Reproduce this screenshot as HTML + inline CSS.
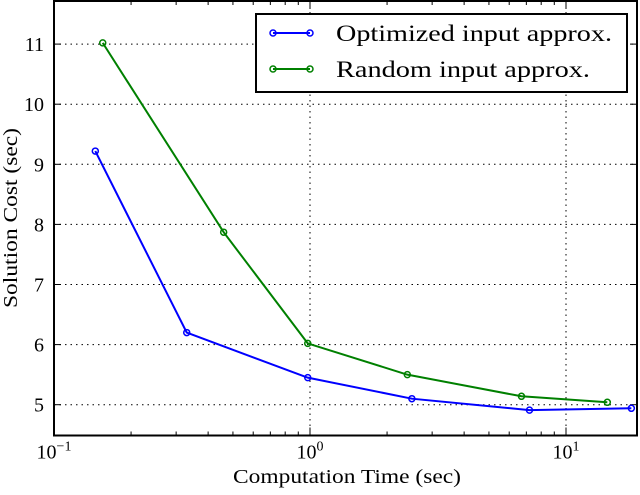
<!DOCTYPE html>
<html><head><meta charset="utf-8"><style>
body{margin:0;background:#fff}
text{font-family:"Liberation Serif","DejaVu Serif",serif;fill:#000}
</style></head><body>
<svg id="chart" width="640" height="490" xmlns="http://www.w3.org/2000/svg"></svg>
<script>
const yTicks=[5,6,7,8,9,10,11];
const xTickExp=[-1,0,1];
const blueX=[0.145,0.33,0.98,2.5,7.2,18];
const blueY=[9.22,6.2,5.45,5.1,4.91,4.94];
const greenX=[0.155,0.46,0.98,2.4,6.7,14.5];
const greenY=[11.02,7.87,6.02,5.5,5.14,5.04];
const seriesNames=["Optimized input approx.","Random input approx."];

const L=54,R=637,T=1,B=435.5;
const NS="http://www.w3.org/2000/svg";
const svg=document.getElementById('chart');
function X(v){return 54+(Math.log10(v)+1)*256;}
function Y(v){return 404.7-(v-5)*60.1;}
function mk(tag,attrs,parent){const e=document.createElementNS(NS,tag);for(const k in attrs)e.setAttribute(k,attrs[k]);(parent||svg).appendChild(e);return e;}

yTicks.forEach(t=>{const g=mk('line',{x1:L,x2:R,y1:Y(t),y2:Y(t),stroke:'#000','stroke-width':1,'stroke-dasharray':'1.5,4'});


const tx=mk('text',{x:L-10,y:Y(t)+7,'text-anchor':'end','font-size':20});tx.textContent=t;


mk('line',{x1:L,x2:L+7,y1:Y(t),y2:Y(t),stroke:'#000'});mk('line',{x1:R,x2:R-7,y1:Y(t),y2:Y(t),stroke:'#000'});});
xTickExp.forEach(e=>{const x=X(Math.pow(10,e));
if(e>-1){const g=mk('line',{x1:x,x2:x,y1:T,y2:B,stroke:'#000','stroke-width':1,'stroke-dasharray':'1.5,4'});

}
mk('line',{x1:x,x2:x,y1:B,y2:B-8,stroke:'#000'});mk('line',{x1:x,x2:x,y1:T,y2:T+8,stroke:'#000'});
const tx=mk('text',{x:x,y:B+23,'text-anchor':'middle','font-size':20});


tx.innerHTML='10<tspan dy="-8" font-size="14">'+(e<0?'\u22121':e)+'</tspan>';
for(let m=2;m<10;m++){const v=m*Math.pow(10,e);const xm=X(v);if(xm<R){mk('line',{x1:xm,x2:xm,y1:B,y2:B-4,stroke:'#000'});mk('line',{x1:xm,x2:xm,y1:T,y2:T+4,stroke:'#000'});}}
});
const fr=mk('rect',{x:L,y:T,width:R-L,height:B-T,fill:'none',stroke:'#000','stroke-width':2});



function series(xs,ys,color,name){
 const p=mk('polyline',{points:xs.map((x,i)=>X(x)+','+Y(ys[i])).join(' '),fill:'none',stroke:color,'stroke-width':2});
 
 
 xs.forEach((x,i)=>{const c=mk('circle',{cx:X(x),cy:Y(ys[i]),r:3,fill:'none',stroke:color,'stroke-width':1.5});
 
 });
}
series(blueX,blueY,'#0000ff','optimized');
series(greenX,greenY,'#008000','random');

const lg=mk('g',{});


mk('rect',{x:256,y:14,width:371,height:78,fill:'#fff',stroke:'#000','stroke-width':2},lg);
const legLens=[276,254];
[['#0000ff',33],['#008000',69]].forEach((c,i)=>{
 mk('line',{x1:273,x2:310,y1:c[1],y2:c[1],stroke:c[0],'stroke-width':2},lg);
 mk('circle',{cx:273,cy:c[1],r:3,fill:'none',stroke:c[0],'stroke-width':1.5},lg);
 mk('circle',{cx:310,cy:c[1],r:3,fill:'none',stroke:c[0],'stroke-width':1.5},lg);
 const t=mk('text',{x:336,y:c[1]+8,'font-size':23,textLength:legLens[i],lengthAdjust:'spacingAndGlyphs'},lg);t.textContent=seriesNames[i];
 
 
});
const xt=mk('text',{x:233,y:483,'font-size':20,textLength:228,lengthAdjust:'spacingAndGlyphs'});xt.textContent='Computation Time (sec)';


const yt=mk('text',{x:0,y:0,'text-anchor':'middle','font-size':20,textLength:180,lengthAdjust:'spacingAndGlyphs',transform:'translate(17,218) rotate(-90)'});yt.textContent='Solution Cost (sec)';


</script>
</body></html>
